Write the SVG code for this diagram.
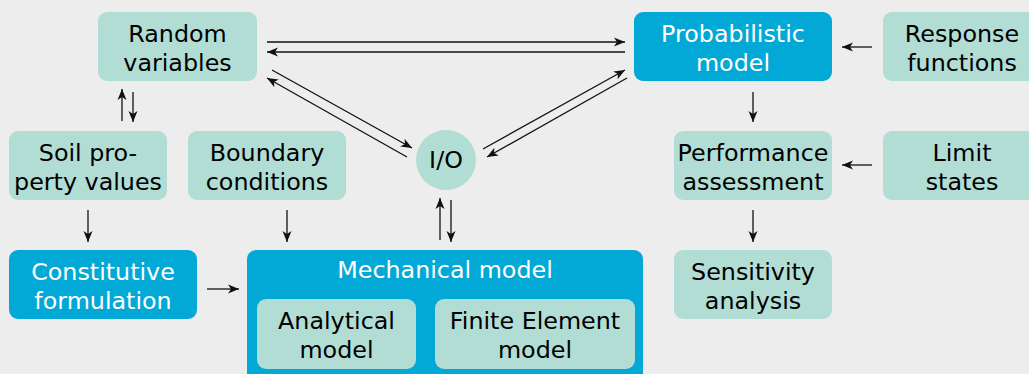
<svg xmlns="http://www.w3.org/2000/svg" width="1029" height="374" viewBox="0 0 1029 374">
<style>
.bg{fill:#ededed}
.lt{fill:#b2ddd5}
.bl{fill:#02a8d6}
text{font-family:"DejaVu Sans",sans-serif;font-size:23.8px;text-anchor:middle}
.dk{fill:#000}
.wt{fill:#fff}
.c line{stroke:#111;stroke-width:1.3;fill:none}
</style>
<defs>
<marker id="ah" markerUnits="userSpaceOnUse" markerWidth="12" markerHeight="10" viewBox="0 -5 12 10" refX="11" refY="0" orient="auto">
<path d="M0,-4.5 L11,0 L0,4.5 L3,0 Z" fill="#111"/>
</marker>
</defs>
<rect class="bg" x="0" y="0" width="1029" height="374"/>

<g id="random-variables"><rect class="lt" x="98" y="12" width="159" height="69" rx="9"/><text class="dk" x="177.5" y="42">Random</text><text class="dk" x="177.5" y="71">variables</text></g>
<g id="probabilistic-model"><rect class="bl" x="634" y="12" width="198" height="69" rx="9"/><text class="wt" x="733" y="42">Probabilistic</text><text class="wt" x="733" y="71">model</text></g>
<g id="response-functions"><rect class="lt" x="883" y="12" width="158" height="69" rx="9"/><text class="dk" x="962" y="42">Response</text><text class="dk" x="962" y="71">functions</text></g>
<g id="soil-property-values"><rect class="lt" x="9" y="131" width="158" height="69" rx="9"/><text class="dk" x="88" y="161">Soil pro-</text><text class="dk" x="88" y="190">perty values</text></g>
<g id="boundary-conditions"><rect class="lt" x="188" y="131" width="158" height="69" rx="9"/><text class="dk" x="267" y="161">Boundary</text><text class="dk" x="267" y="190">conditions</text></g>
<g id="io"><circle class="lt" cx="446" cy="160" r="30"/><text class="dk" x="446" y="168">I/O</text></g>
<g id="performance-assessment"><rect class="lt" x="674" y="131" width="158" height="69" rx="9"/><text class="dk" x="753" y="161">Performance</text><text class="dk" x="753" y="190">assessment</text></g>
<g id="limit-states"><rect class="lt" x="883" y="131" width="158" height="69" rx="9"/><text class="dk" x="962" y="161">Limit</text><text class="dk" x="962" y="190">states</text></g>
<g id="constitutive-formulation"><rect class="bl" x="9" y="250" width="188" height="69" rx="9"/><text class="wt" x="103" y="280">Constitutive</text><text class="wt" x="103" y="309">formulation</text></g>
<g id="mechanical-model"><rect class="bl" x="247" y="250" width="396" height="134" rx="9"/><text class="wt" x="445" y="278">Mechanical model</text></g>
<g id="analytical-model"><rect class="lt" x="257" y="299" width="159" height="70" rx="9"/><text class="dk" x="336.5" y="329">Analytical</text><text class="dk" x="336.5" y="358">model</text></g>
<g id="finite-element-model"><rect class="lt" x="435" y="299" width="200" height="70" rx="9"/><text class="dk" x="535" y="329">Finite Element</text><text class="dk" x="535" y="358">model</text></g>
<g id="sensitivity-analysis"><rect class="lt" x="674" y="250" width="158" height="69" rx="9"/><text class="dk" x="753" y="280">Sensitivity</text><text class="dk" x="753" y="309">analysis</text></g>

<g id="connectors" class="c">
<line x1="267" y1="42" x2="625" y2="42" marker-end="url(#ah)"/>
<line x1="625" y1="52" x2="267" y2="52" marker-end="url(#ah)"/>
<line x1="272" y1="70" x2="412" y2="148" marker-end="url(#ah)"/>
<line x1="407" y1="157" x2="267" y2="78" marker-end="url(#ah)"/>
<line x1="483" y1="149" x2="625" y2="70" marker-end="url(#ah)"/>
<line x1="627" y1="78" x2="487" y2="157" marker-end="url(#ah)"/>
<line x1="122" y1="121" x2="122" y2="89" marker-end="url(#ah)"/>
<line x1="133" y1="92" x2="133" y2="122" marker-end="url(#ah)"/>
<line x1="88" y1="210" x2="88" y2="242" marker-end="url(#ah)"/>
<line x1="287" y1="210" x2="287" y2="242" marker-end="url(#ah)"/>
<line x1="207" y1="289" x2="239" y2="289" marker-end="url(#ah)"/>
<line x1="440" y1="240" x2="440" y2="198" marker-end="url(#ah)"/>
<line x1="451" y1="200" x2="451" y2="242" marker-end="url(#ah)"/>
<line x1="753" y1="92" x2="753" y2="122" marker-end="url(#ah)"/>
<line x1="872" y1="47" x2="842" y2="47" marker-end="url(#ah)"/>
<line x1="872" y1="165" x2="842" y2="165" marker-end="url(#ah)"/>
<line x1="753" y1="210" x2="753" y2="242" marker-end="url(#ah)"/>
</g>
</svg>
